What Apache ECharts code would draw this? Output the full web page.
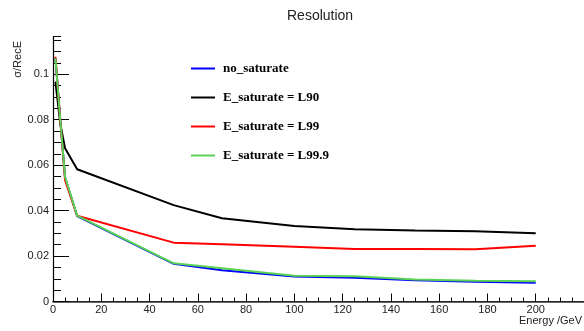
<!DOCTYPE html>
<html>
<head>
<meta charset="utf-8">
<script src="https://cdn.jsdelivr.net/npm/echarts@6/dist/echarts.min.js"></script>
<style>
  html, body {margin: 0; padding: 0; background: #fff;}
  #chart {width: 584px; height: 331px;}
</style>
</head>
<body>
<div id="chart"></div>
<script>
// energies (GeV)
const energies = [1, 3, 5, 10, 50, 70, 100, 125, 150, 175, 200];
// sigma / RecE for each configuration
const noSaturate = [0.1071, 0.080, 0.0545, 0.0376, 0.0166, 0.0138, 0.0110, 0.0105, 0.0094, 0.0087, 0.0083];
const satL90 = [0.0967, 0.0784, 0.0674, 0.0582, 0.0424, 0.0366, 0.0332, 0.0318, 0.0312, 0.0309, 0.0300];
const satL99 = [0.1077, 0.080, 0.0534, 0.0377, 0.0259, 0.0252, 0.0241, 0.0231, 0.0231, 0.0230, 0.0245];
const satL999 = [0.1071, 0.080, 0.0548, 0.0378, 0.0168, 0.0146, 0.0113, 0.0111, 0.0097, 0.0091, 0.0089];

const seriesNames = ['no_saturate', 'E_saturate = L90', 'E_saturate = L99', 'E_saturate = L99.9'];
const seriesColors = ['#0000ff', '#000000', '#ff0000', '#59d354'];
const seriesValues = [noSaturate, satL90, satL99, satL999];

const chart = echarts.init(document.getElementById('chart'));

const tickFont = {fontFamily: 'Liberation Sans', fontSize: 11, color: '#222'};

chart.setOption({
  animation: false,
  title: {
    text: 'Resolution',
    left: 282,
    top: 4,
    textStyle: {fontFamily: 'Liberation Sans', fontSize: 14, fontWeight: 'normal', color: '#222'}
  },
  legend: {
    orient: 'vertical',
    left: 186,
    top: 57,
    itemWidth: 24,
    itemHeight: 14,
    itemGap: 16,
    icon: 'path://M0,0H24V2H0Z',
    data: seriesNames,
    textStyle: {fontFamily: 'Liberation Serif', fontWeight: 'bold', fontSize: 13, color: '#000', padding: [0, 0, 0, 3]}
  },
  grid: {left: 53, right: -1.5, top: 36.5, bottom: 29.5, containLabel: false},
  xAxis: [
    {
      type: 'value',
      min: 0,
      max: 220,
      interval: 20,
      axisLine: {lineStyle: {color: '#000', width: 1.2}},
      axisTick: {inside: true, length: 8, lineStyle: {color: '#000', width: 1}},
      minorTick: {show: true, splitNumber: 4, length: 4, lineStyle: {color: '#000', width: 1}},
      splitLine: {show: false},
      axisLabel: Object.assign({margin: 3, showMaxLabel: false}, tickFont)
    },
    {
      type: 'value',
      position: 'top',
      min: 0,
      max: 220,
      axisLine: {show: true, lineStyle: {color: '#333', width: 1.5}},
      axisTick: {show: false},
      axisLabel: {show: false},
      splitLine: {show: false}
    }
  ],
  yAxis: [
    {
      type: 'value',
      min: 0,
      max: 0.1166,
      interval: 0.02,
      axisLine: {show: true, lineStyle: {color: '#000', width: 1.2}},
      axisTick: {inside: true, length: 16, lineStyle: {color: '#000', width: 1}},
      splitLine: {show: false},
      axisLabel: Object.assign({
        margin: 4,
        showMaxLabel: false,
        formatter: v => String(+v.toFixed(3))
      }, tickFont)
    },
    {
      type: 'value',
      position: 'left',
      min: 0,
      max: 0.1166,
      interval: 0.005,
      alignTicks: false,
      axisLine: {show: false},
      axisTick: {inside: true, length: 8, lineStyle: {color: '#000', width: 1}},
      axisLabel: {show: false},
      splitLine: {show: false}
    }
  ],
  graphic: [
    {
      type: 'text',
      x: 18,
      y: 41,
      rotation: Math.PI / 2,
      style: {text: 'σ/RecE', fontFamily: 'Liberation Sans', fontSize: 11, fill: '#222', align: 'right', verticalAlign: 'middle'}
    },
    {
      type: 'text',
      x: 582,
      y: 321,
      style: {text: 'Energy /GeV', fontFamily: 'Liberation Sans', fontSize: 11, fill: '#222', align: 'right', verticalAlign: 'middle'}
    }
  ],
  series: seriesNames.map((name, i) => ({
    name: name,
    type: 'line',
    symbol: 'none',
    color: seriesColors[i],
    lineStyle: {width: 2, color: seriesColors[i]},
    data: energies.map((e, j) => [e, seriesValues[i][j]])
  }))
});
</script>
</body>
</html>
